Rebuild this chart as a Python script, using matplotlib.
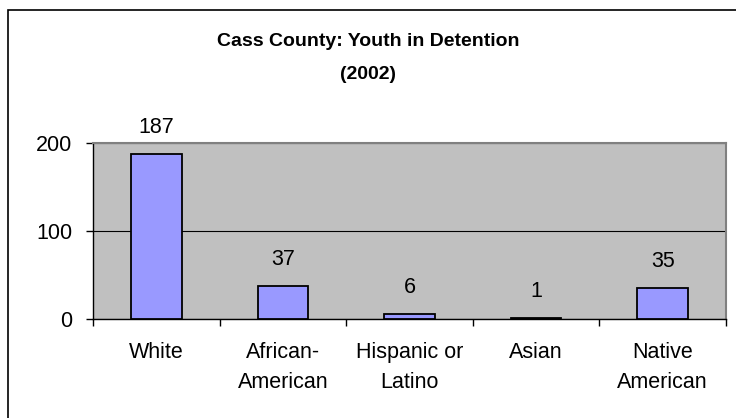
import matplotlib
matplotlib.use("Agg")
import matplotlib.pyplot as plt
from matplotlib.patches import Rectangle

plt.rcParams['font.family'] = ['Liberation Sans', 'DejaVu Sans']

categories = ["White", "African-\nAmerican", "Hispanic or\nLatino", "Asian", "Native\nAmerican"]
values = [187, 37, 6, 1, 35]
yticks = [0, 100, 200]
title = "Cass County: Youth in Detention\n(2002)"

fs = 15.5

fig = plt.figure(figsize=(7.36, 4.18), dpi=100)
fig.patch.set_facecolor("white")
# outer chart border
fig.patches.append(Rectangle((8/736, -0.1), 1.2, (418-10)/418 + 0.1, transform=fig.transFigure,
                             fill=False, edgecolor="black", linewidth=1.2, zorder=0))

ax = fig.add_axes([93/736, 1-319/418, (726-93)/736, (319-143)/418])
ax.set_facecolor("#C0C0C0")
x = list(range(len(values)))
bars = ax.bar(x, values, width=0.4, color="#9999FF", edgecolor="black", linewidth=1.3, zorder=3)
ax.set_xlim(-0.5, len(values) - 0.5)
ax.set_ylim(0, 200)
ax.set_yticks(yticks)
ax.set_yticklabels([str(v) for v in yticks], fontsize=fs)
ax.yaxis.grid(True, color="black", linewidth=0.8, zorder=1)
ax.set_axisbelow(True)

ax.set_xticks([i + 0.5 for i in range(-1, len(values))], minor=False)
ax.set_xticklabels([])
ax.set_xticks(x, minor=True)
ax.set_xticklabels(categories, minor=True, fontsize=fs, linespacing=1.55)
ax.tick_params(axis="x", which="minor", length=0, pad=16.5)
ax.tick_params(axis="x", which="major", length=5, width=1, direction="out")
ax.tick_params(axis="y", length=5, width=1, direction="out", pad=10)
for lbl in ax.get_xticklabels(minor=True):
    lbl.set_verticalalignment("top")

for s in ["top", "right"]:
    ax.spines[s].set_color("#808080")
    ax.spines[s].set_linewidth(1.5)
for s in ["left", "bottom"]:
    ax.spines[s].set_color("black")
    ax.spines[s].set_linewidth(1.0)

for xi, v in zip(x, values):
    ax.annotate(str(v), (xi, v), xytext=(0, 11.5), textcoords="offset points",
                ha="center", va="bottom", fontsize=fs, clip_on=False)

fig.text(368/736, 1-58/418, title, ha="center", va="center", fontsize=14,
         fontweight="bold", linespacing=2.3)

fig.savefig("out.png", dpi=100)
